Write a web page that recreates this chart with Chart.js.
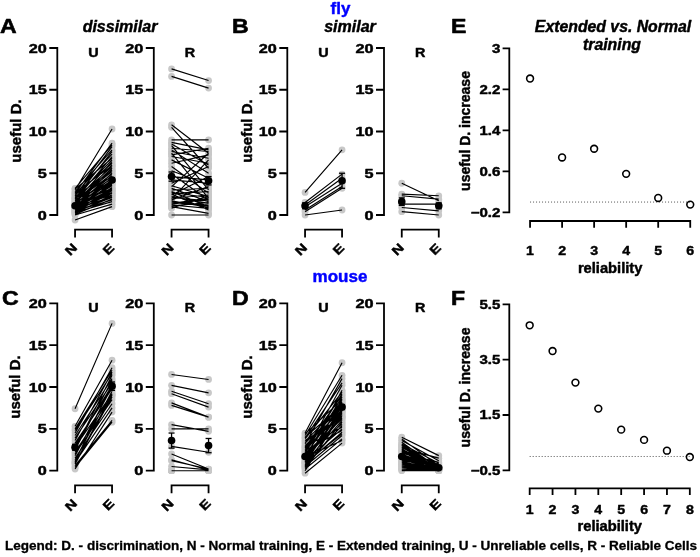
<!DOCTYPE html>
<html><head><meta charset="utf-8">
<script src="https://cdn.jsdelivr.net/npm/chart.js@4.4.1/dist/chart.umd.min.js"></script>
<style>
html,body{margin:0;padding:0;background:#fff;}
#wrap{position:relative;width:700px;height:557px;overflow:hidden;background:#fff;}
#wrap canvas{position:absolute;left:0;top:0;}
</style>
</head><body><div id="wrap"></div>
<script>
// ---------------- DATA ----------------
const conditions = ['N', 'E'];
const conditionX = [1, 2];
const usefulTicks = [0, 5, 10, 15, 20];

// fly, dissimilar
const flyDissimU_N = [-0.6,0.0,0.1,0.2,0.3,0.3,0.4,0.4,0.5,0.5,0.6,0.6,0.7,0.7,0.8,0.8,0.9,0.9,1.0,1.0,1.0,1.1,1.1,1.2,1.2,1.3,1.3,1.4,1.4,1.5,1.5,1.6,1.6,1.7,1.8,1.8,1.9,2.0,2.0,2.1,2.2,2.3,2.4,2.5,2.6,2.7,2.8,3.0,3.1,3.2];
const flyDissimU_E = [1.0,1.3,1.9,2.4,1.6,2.9,2.1,3.3,1.8,2.6,3.0,3.8,2.2,4.1,2.7,3.5,4.5,3.1,2.4,5.0,3.6,4.2,2.9,5.4,3.9,4.7,3.2,6.0,4.4,5.6,3.7,6.4,4.9,5.2,7.0,4.0,5.8,7.6,4.6,6.6,5.3,8.2,6.2,7.3,8.6,5.9,7.8,10.3,6.8,8.4];
const flyDissimU_mean = [1.1, 4.2];
const flyDissimU_sem = [0.1, 0.25];

const flyDissimR_N = [17.5,16.6,10.8,10.5,9.0,8.7,8.5,8.3,8.0,7.8,7.6,7.4,7.2,7.0,6.6,6.2,5.8,5.3,4.9,4.6,4.2,3.8,3.5,3.2,3.0,2.8,2.6,2.4,2.2,2.0,1.8,1.6,1.4,1.2,1.0,0.0,1.9,3.4,2.5,1.3,1.1,2.1,0.8,1.5,2.7,1.7];
const flyDissimR_E = [16.1,15.2,7.4,5.6,9.0,7.8,6.0,3.0,7.6,5.0,6.8,2.0,8.0,6.2,4.4,7.2,2.6,3.6,1.8,4.2,3.8,5.8,2.2,1.6,3.2,1.0,2.8,4.6,1.4,2.4,3.4,1.2,2.0,0.8,0.2,0.0,6.6,7.4,0.6,1.9,1.5,1.7,2.3,1.1,2.1,0.9];
const flyDissimR_mean = [4.6, 4.1];
const flyDissimR_sem = [0.55, 0.5];

// fly, similar
const flySimU_N = [2.7,1.5,1.2,1.0,0.6,0.4,0.0];
const flySimU_E = [7.8,4.9,4.4,3.8,3.4,3.2,0.6];
const flySimU_mean = [1.1, 4.1];
const flySimU_sem = [0.35, 0.9];

const flySimR_N = [3.8,2.5,2.3,1.3,0.9,0.4];
const flySimR_E = [1.7,2.3,1.9,1.3,0.5,0.0];
const flySimR_mean = [1.6, 1.1];
const flySimR_sem = [0.45, 0.35];

// mouse, dissimilar
const mouseDissimU_N = [7.4,5.3,5.0,4.8,4.5,4.2,3.9,3.6,3.3,3.0,2.8,2.5,2.2,2.0,1.8,1.5,1.3,1.0,0.8,0.6,0.4,0.2,1.1,2.6,0.9];
const mouseDissimU_E = [17.6,13.2,12.0,11.6,12.3,11.0,10.5,11.8,9.8,10.2,9.2,10.8,9.0,8.5,10.0,8.0,9.5,7.5,8.8,6.0,5.8,7.0,10.4,11.4,9.1];
const mouseDissimU_mean = [2.8, 10.1];
const mouseDissimU_sem = [0.35, 0.5];

const mouseDissimR_N = [11.5,10.2,9.5,9.2,8.1,7.8,5.5,5.0,2.9,2.0,1.3,0.0,0.0,0.0,0.0,0.0,0.0,0.0,0.5,1.2];
const mouseDissimR_E = [10.9,9.3,8.0,7.6,6.4,6.4,4.7,5.0,2.2,0.2,0.1,0.0,0.0,0.0,0.0,0.0,0.0,0.0,0.1,0.2];
const mouseDissimR_mean = [3.6, 3.0];
const mouseDissimR_sem = [0.9, 0.85];

// mouse, similar
const mouseSimU_N = [4.5,4.2,3.8,3.5,3.2,3.0,2.8,2.6,2.5,2.3,2.2,2.0,1.9,1.8,1.7,1.6,1.5,1.4,1.3,1.2,1.1,1.0,0.9,0.8,0.7,0.6,0.5,0.4,0.3,0.2,0.0,-0.3,4.0,3.6,2.9,2.4,2.1,1.6,1.0,0.6,3.3,2.7,1.4,0.9,4.4,3.9];
const mouseSimU_E = [12.9,11.4,9.4,8.0,11.0,7.2,9.0,6.8,8.4,7.6,10.2,6.2,7.9,5.6,8.8,7.0,6.5,9.6,7.4,5.0,8.2,6.0,7.7,4.6,6.6,8.6,4.2,7.1,5.8,3.8,6.9,3.3,7.8,6.4,5.2,4.8,9.2,3.6,7.3,5.4,7.5,8.1,6.3,4.4,8.5,10.5];
const mouseSimU_mean = [1.7, 7.6];
const mouseSimU_sem = [0.2, 0.3];

const mouseSimR_N = [4.0,3.8,3.6,3.4,3.2,3.0,2.9,2.7,2.6,2.5,2.3,2.2,2.1,2.0,1.9,1.8,1.7,1.6,1.5,1.4,1.3,1.2,1.1,1.0,0.9,0.8,0.7,0.6,0.5,0.4,0.3,0.2,0.1,0.0,1.5,2.4,3.1,0.6,1.0,2.8];
const mouseSimR_E = [1.8,0.6,1.2,0.3,0.9,0.1,0.5,1.5,0.2,0.7,0.0,0.4,1.0,0.3,0.1,0.6,0.2,0.8,0.0,0.4,0.2,0.5,0.1,0.3,0.0,0.2,0.4,0.1,0.0,0.2,0.1,0.0,0.3,0.0,0.6,0.2,0.4,0.5,0.0,0.3];
const mouseSimR_mean = [1.7, 0.35];
const mouseSimR_sem = [0.15, 0.07];

// Extended vs. Normal increase by reliability
const reliabilityFly = [1, 2, 3, 4, 5, 6];
const increaseFly = [2.41, 0.87, 1.04, 0.55, 0.08, -0.05];
const incFlyTicks = [-0.2, 0.6, 1.4, 2.2, 3];
const incFlyTickLabels = ['\u22120.2', '0.6', '1.4', '2.2', '3'];

const reliabilityMouse = [1, 2, 3, 4, 5, 6, 7, 8];
const increaseMouse = [4.74, 3.81, 2.67, 1.73, 0.97, 0.60, 0.21, -0.02];
const incMouseTicks = [-0.5, 1.5, 3.5, 5.5];
const incMouseTickLabels = ['\u22120.5', '1.5', '3.5', '5.5'];

const legendText = 'Legend: D. - discrimination, N - Normal training, E - Extended training, U - Unreliable cells, R - Reliable Cells';

// ---------------- DRAWING HELPERS ----------------
const W = 700, H = 557;
const FONT = '"Liberation Sans", Arial, Helvetica, sans-serif';
const wrap = document.getElementById('wrap');

function drawText(ctx, s, x, y, o) {
  ctx.save();
  ctx.translate(x, y);
  if (o.rot) ctx.rotate(o.rot);
  ctx.font = (o.italic ? 'italic ' : '') + 'bold ' + o.size + 'px ' + FONT;
  let sx = o.sx || 1;
  if (o.width) sx = o.width / ctx.measureText(s).width;
  ctx.scale(sx, 1);
  ctx.fillStyle = o.color || '#000';
  ctx.strokeStyle = o.color || '#000';
  ctx.lineWidth = o.heavy === undefined ? 0.45 : o.heavy;
  ctx.lineJoin = 'round';
  ctx.textAlign = o.align || 'left';
  ctx.textBaseline = o.baseline || 'alphabetic';
  ctx.fillText(s, 0, 0);
  if (ctx.lineWidth > 0.01) ctx.strokeText(s, 0, 0);
  ctx.restore();
}

function makeCanvas() {
  const c = document.createElement('canvas');
  c.width = W; c.height = H;
  c.style.width = W + 'px'; c.style.height = H + 'px';
  wrap.appendChild(c);
  return c;
}

const rAxes = {
  id: 'rAxes',
  afterDraw(chart, args, o) {
    const ctx = chart.ctx, xs = chart.scales.x, ys = chart.scales.y, ca = chart.chartArea;
    ctx.save();
    ctx.strokeStyle = '#000';
    ctx.lineWidth = o.lw;
    ctx.lineCap = 'butt';
    // y axis
    const xl = ca.left;
    const yT = ys.getPixelForValue(o.yTicks[o.yTicks.length - 1]);
    const yB = ys.getPixelForValue(o.yTicks[0]);
    ctx.beginPath();
    ctx.moveTo(xl, yT - o.lw / 2); ctx.lineTo(xl, yB + o.lw / 2);
    o.yTicks.forEach(v => { const y = ys.getPixelForValue(v); ctx.moveTo(xl, y); ctx.lineTo(xl - o.tick, y); });
    // x axis
    const yb = ca.bottom;
    const x1 = xs.getPixelForValue(o.xTicks[0]);
    const x2 = xs.getPixelForValue(o.xTicks[o.xTicks.length - 1]);
    ctx.moveTo(x1 - o.lw / 2, yb); ctx.lineTo(x2 + o.lw / 2, yb);
    o.xTicks.forEach(v => { const x = xs.getPixelForValue(v); ctx.moveTo(x, yb); ctx.lineTo(x, yb + o.tick); });
    ctx.stroke();
    ctx.restore();
    // y labels
    o.yTicks.forEach((v, i) => {
      const y = ys.getPixelForValue(v);
      drawText(ctx, o.yLabels[i], xl - o.yLabGap, y + 0.36 * o.ySize, {size: o.ySize, sx: o.ySx, align: 'right'});
    });
    // x labels
    o.xTicks.forEach((v, i) => {
      const x = xs.getPixelForValue(v);
      if (o.xRot) {
        drawText(ctx, o.xLabels[i], x + o.xDx, yb + o.xDy, {size: o.xSize, sx: o.xSx, align: 'right', baseline: 'middle', rot: -Math.PI / 4});
      } else {
        drawText(ctx, o.xLabels[i], x, yb + o.xDy, {size: o.xSize, sx: o.xSx, align: 'center'});
      }
    });
    // panel label (U / R)
    if (o.title) {
      const xm = (x1 + x2) / 2;
      drawText(ctx, o.title, xm, yT + 4.2 + 0.36 * 12.5, {size: 12.5, sx: 1.15, align: 'center'});
    }
    if (o.xTitle) {
      drawText(ctx, o.xTitle, (x1 + x2) / 2, o.xTitleY, {size: 14, sx: 1.05, align: 'center'});
    }
  }
};

const figText = {
  id: 'figText',
  afterDraw(chart) {
    const ctx = chart.ctx;
    // panel letters
    const L = {size: 21, sx: 1.1, heavy: 0.6};
    drawText(ctx, 'A', 0, 33.3, L);
    drawText(ctx, 'B', 232, 33.3, L);
    drawText(ctx, 'E', 451, 33.3, L);
    drawText(ctx, 'C', 2, 304.5, L);
    drawText(ctx, 'D', 232, 304.5, L);
    drawText(ctx, 'F', 451, 304.5, L);
    // titles
    drawText(ctx, 'dissimilar', 120, 32, {size: 16, italic: true, align: 'center'});
    drawText(ctx, 'similar', 350, 32, {size: 16, italic: true, align: 'center'});
    drawText(ctx, 'fly', 340.5, 13.5, {size: 17, align: 'center', color: '#0000ff'});
    drawText(ctx, 'mouse', 340, 281.5, {size: 17, align: 'center', color: '#0000ff'});
    drawText(ctx, 'Extended vs. Normal', 613, 31.5, {size: 15.8, italic: true, align: 'center'});
    drawText(ctx, 'training', 612, 49.5, {size: 15.8, italic: true, align: 'center'});
    // y-axis titles
    const R = -Math.PI / 2;
    drawText(ctx, 'useful D.', 20.7, 131, {size: 15, rot: R, align: 'center'});
    drawText(ctx, 'useful D.', 251.5, 131, {size: 15, rot: R, align: 'center'});
    drawText(ctx, 'useful D.', 20.3, 387, {size: 15, rot: R, align: 'center'});
    drawText(ctx, 'useful D.', 251.5, 387, {size: 15, rot: R, align: 'center'});
    drawText(ctx, 'useful D. increase', 469.5, 131, {size: 14, rot: R, align: 'center'});
    drawText(ctx, 'useful D. increase', 469.5, 387.5, {size: 14, rot: R, align: 'center'});
    // legend
    drawText(ctx, legendText, 5, 549.5, {size: 12.3, width: 692, heavy: 0.3});
  }
};

function pairsLine(N, E) {
  const out = [];
  N.forEach((n, i) => {
    out.push({x: conditionX[0], y: n}, {x: conditionX[1], y: E[i]}, {x: 1.5, y: null});
  });
  return out;
}
function pairsPoints(N, E) {
  const out = [];
  N.forEach((n, i) => { out.push({x: conditionX[0], y: n}); out.push({x: conditionX[1], y: E[i]}); });
  return out;
}
function errData(mean, sem) {
  return [
    {x: conditionX[0], y: mean[0] - sem[0]}, {x: conditionX[0], y: mean[0] + sem[0]}, {x: 1.5, y: null},
    {x: conditionX[1], y: mean[1] - sem[1]}, {x: conditionX[1], y: mean[1] + sem[1]}
  ];
}

const baseOpts = (pad, xr, yr, axOpts) => ({
  responsive: false,
  animation: false,
  events: [],
  layout: {padding: pad},
  plugins: {legend: {display: false}, tooltip: {enabled: false}, rAxes: axOpts},
  scales: {
    x: {type: 'linear', display: false, min: xr[0], max: xr[1], bounds: 'data'},
    y: {type: 'linear', display: false, min: yr[0], max: yr[1], bounds: 'data'}
  }
});

function pairPanel(N, E, mean, sem, spineX, y0, ppu, title, extra) {
  const xr = [0.52, 2.48], yr = [-1.75, 21];
  const xppu = 37;
  const pad = {
    left: spineX,
    right: W - (spineX + (xr[1] - xr[0]) * xppu),
    top: y0 - yr[1] * ppu,
    bottom: H - (y0 - yr[0] * ppu)
  };
  const ax = {
    yTicks: usefulTicks, yLabels: usefulTicks.map(String), xTicks: conditionX, xLabels: conditions,
    lw: 1.8, tick: 8, yLabGap: 10.5, ySize: 12.5, ySx: 1.3,
    xRot: true, xSize: 12.5, xSx: 1.2, xDx: 0.5, xDy: 16.5, title: title
  };
  const cfg = {
    type: 'scatter',
    data: {datasets: [
      {data: pairsPoints(N, E), pointRadius: 3.4, pointBackgroundColor: '#c8c8c8', pointBorderWidth: 0, borderColor: 'rgba(0,0,0,0)', showLine: false, order: 4, clip: false},
      {data: pairsLine(N, E), showLine: true, spanGaps: false, borderColor: '#000', borderWidth: 1.15, pointRadius: 0, order: 3, clip: false},
      {data: errData(mean, sem), showLine: true, spanGaps: false, borderColor: '#000', borderWidth: 1.3, pointStyle: 'line', pointRadius: 3, pointBorderColor: '#000', pointBorderWidth: 1.3, order: 2, clip: false},
      {data: [{x: conditionX[0], y: mean[0]}, {x: conditionX[1], y: mean[1]}], pointRadius: 3.8, pointBackgroundColor: '#000', pointBorderWidth: 0, showLine: false, order: 1, clip: false}
    ]},
    options: baseOpts(pad, xr, yr, ax),
    plugins: [rAxes].concat(extra || [])
  };
  new Chart(makeCanvas(), cfg);
}

function incPanel(xv, yv, ticks, tickLabels, g, extra) {
  const pad = {
    left: g.spine,
    right: W - (g.spine + (g.xr[1] - g.xr[0]) * g.xppu),
    top: g.yTopPx - (g.yr[1] - ticks[ticks.length - 1]) * g.yppu,
    bottom: H - (g.yTopPx + (ticks[ticks.length - 1] - g.yr[0]) * g.yppu)
  };
  const ax = {
    yTicks: ticks, yLabels: tickLabels, xTicks: xv, xLabels: xv.map(String),
    lw: 1.8, tick: 6.7, yLabGap: 9, ySize: 12.5, ySx: 1.2,
    xRot: false, xSize: 13.5, xSx: 1.05, xDy: g.xLabDy, xTitle: 'reliability', xTitleY: g.xTitleY
  };
  const cfg = {
    type: 'scatter',
    data: {datasets: [
      {data: [{x: xv[0], y: 0}, {x: xv[xv.length - 1], y: 0}], showLine: true, borderColor: '#555', borderWidth: 1, borderDash: [1, 2], pointRadius: 0, order: 2, clip: false},
      {data: xv.map((x, i) => ({x: x, y: yv[i]})), pointRadius: 3.4, pointBackgroundColor: 'rgba(0,0,0,0)', pointBorderColor: '#000', pointBorderWidth: 1.6, showLine: false, order: 1, clip: false}
    ]},
    options: baseOpts(pad, g.xr, g.yr, ax),
    plugins: [rAxes].concat(extra || [])
  };
  new Chart(makeCanvas(), cfg);
}

// ---------------- PANELS ----------------
// row 1 (fly)
pairPanel(flyDissimU_N, flyDissimU_E, flyDissimU_mean, flyDissimU_sem, 57.3, 215, 8.35, 'U');
pairPanel(flyDissimR_N, flyDissimR_E, flyDissimR_mean, flyDissimR_sem, 153.8, 215, 8.35, 'R');
pairPanel(flySimU_N, flySimU_E, flySimU_mean, flySimU_sem, 287.3, 215, 8.35, 'U');
pairPanel(flySimR_N, flySimR_E, flySimR_mean, flySimR_sem, 384, 215, 8.35, 'R');
// row 2 (mouse)
pairPanel(mouseDissimU_N, mouseDissimU_E, mouseDissimU_mean, mouseDissimU_sem, 57.3, 470.7, 8.37, 'U');
pairPanel(mouseDissimR_N, mouseDissimR_E, mouseDissimR_mean, mouseDissimR_sem, 153.8, 470.7, 8.37, 'R');
pairPanel(mouseSimU_N, mouseSimU_E, mouseSimU_mean, mouseSimU_sem, 287.3, 470.7, 8.37, 'U');
pairPanel(mouseSimR_N, mouseSimR_E, mouseSimR_mean, mouseSimR_sem, 384, 470.7, 8.37, 'R');
// E and F
incPanel(reliabilityFly, increaseFly, incFlyTicks, incFlyTickLabels,
  {spine: 509.3, xr: [0.352, 6.13], xppu: 33, yr: [-0.37, 3.1], yppu: 51.25, yTopPx: 48.3, xLabDy: 34, xTitleY: 272.5});
incPanel(reliabilityMouse, increaseMouse, incMouseTicks, incMouseTickLabels,
  {spine: 509.3, xr: [0.109, 8.2], xppu: 23.57, yr: [-1.15, 5.7], yppu: 27.67, yTopPx: 304.3, xLabDy: 25.5, xTitleY: 530.5}, [figText]);
</script>
</body></html>
